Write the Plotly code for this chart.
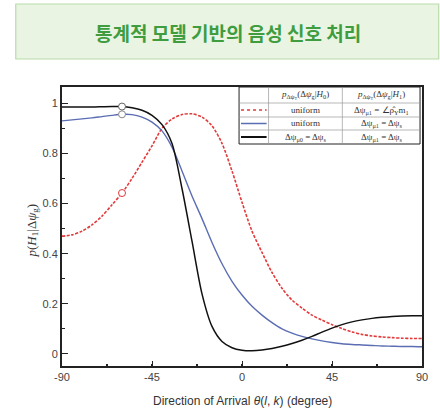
import plotly.graph_objects as go

theta = list(range(-90, 91, 5))

p_black = [0.985, 0.985, 0.985, 0.985, 0.986, 0.987, 0.987, 0.982, 0.972, 0.952,
           0.915, 0.840, 0.660, 0.450, 0.240, 0.110, 0.050, 0.025, 0.015, 0.013,
           0.016, 0.022, 0.031, 0.042, 0.055, 0.070, 0.087, 0.103, 0.117, 0.128,
           0.136, 0.142, 0.146, 0.149, 0.151, 0.152, 0.152]
p_blue = [0.930, 0.934, 0.938, 0.942, 0.947, 0.952, 0.956, 0.955, 0.945, 0.925,
          0.890, 0.825, 0.730, 0.630, 0.540, 0.445, 0.360, 0.290, 0.235, 0.190,
          0.155, 0.125, 0.100, 0.083, 0.070, 0.060, 0.052, 0.046, 0.041, 0.038,
          0.036, 0.034, 0.032, 0.031, 0.030, 0.030, 0.029]
p_red = [0.470, 0.475, 0.490, 0.515, 0.550, 0.595, 0.642, 0.700, 0.765, 0.830,
         0.900, 0.937, 0.955, 0.958, 0.945, 0.910, 0.840, 0.730, 0.605, 0.490,
         0.405, 0.325, 0.262, 0.215, 0.183, 0.155, 0.135, 0.117, 0.101, 0.088,
         0.078, 0.072, 0.068, 0.065, 0.063, 0.062, 0.062]

marker_theta = -60
x_ticks = [-90, -45, 0, 45, 90]
y_ticks = [0, 0.2, 0.4, 0.6, 0.8, 1]
y_tick_labels = ["0", "0.2", "0.4", "0.6", "0.8", "1"]

title_text = "통계적 모델 기반의 음성 신호 처리"
x_title = "Direction of Arrival <i>θ</i>(<i>l</i>, <i>k</i>) (degree)"
y_title = "<i>p</i>(<i>H</i><sub>1</sub>|Δ<i>ψ</i><sub>g</sub>)"
legend_header = ["<i>p</i><sub>Δψ<sub>T</sub></sub>(Δ<i>ψ</i><sub>g</sub>|<i>H</i><sub>0</sub>)",
                 "<i>p</i><sub>Δψ<sub>T</sub></sub>(Δ<i>ψ</i><sub>g</sub>|<i>H</i><sub>1</sub>)"]
legend_col1 = ["uniform", "uniform", "Δψ<sub>μ0</sub> = Δψ<sub>s</sub>"]
legend_col2 = ["Δψ<sub>μ1</sub> = ∠ρ̂<sub>Y</sub>m<sub>1</sub>",
               "Δψ<sub>μ1</sub> = Δψ<sub>s</sub>",
               "Δψ<sub>μ1</sub> = Δψ<sub>s</sub>"]

W, H = 440, 416
L, R, T, B = 62, 12, 87, 50
PW, PH = W - L - R, H - T - B


def px(x):
    return (x - L) / PW


def py(y):
    return 1 - (y - T) / PH


def note(x, y, text, size, family, color="#333", angle=0):
    return dict(xref="paper", yref="paper", x=px(x), y=py(y), text=text, showarrow=False,
                xanchor="center", yanchor="middle", textangle=angle,
                font=dict(family=family, size=size, color=color))


RED = "#e23a3a"
BLUE = "#5b6db3"
BLACK = "#111111"

fig = go.Figure()
fig.add_trace(go.Scatter(x=theta, y=p_red, mode="lines",
                         line=dict(color=RED, width=1.6, dash="3px,1.5px", shape="spline", smoothing=0.8)))
fig.add_trace(go.Scatter(x=theta, y=p_blue, mode="lines",
                         line=dict(color=BLUE, width=1.4, shape="spline", smoothing=0.8)))
fig.add_trace(go.Scatter(x=theta, y=p_black, mode="lines",
                         line=dict(color=BLACK, width=1.5, shape="spline", smoothing=0.8)))

mi = theta.index(marker_theta)
for arr, col in [(p_red, RED), (p_blue, "#888888"), (p_black, "#666666")]:
    fig.add_trace(go.Scatter(x=[marker_theta], y=[arr[mi]], mode="markers",
                             marker=dict(symbol="circle", size=7, color="white",
                                         line=dict(color=col, width=1))))

shapes = []
annotations = []

# Title banner
shapes.append(dict(type="rect", xref="paper", yref="paper",
                   x0=px(15), x1=px(445), y0=py(59), y1=py(4),
                   fillcolor="#e9f4e3", line=dict(color="#b9dcaa", width=1.2), layer="below"))
annotations.append(note(231, 33, "<b>" + title_text + "</b>", 19, "Noto Sans CJK KR", "#3f9d3f"))

# Legend table
lx0, lx1, lx2, lx3 = 242, 272, 347, 426
ly = [87, 103, 117, 130, 144]
shapes.append(dict(type="rect", xref="paper", yref="paper", x0=px(lx0), x1=px(lx3),
                   y0=py(ly[-1]), y1=py(ly[0]), fillcolor="white", line=dict(color="#222", width=1)))
for yy in ly[1:-1]:
    shapes.append(dict(type="line", xref="paper", yref="paper", x0=px(lx0), x1=px(lx3),
                       y0=py(yy), y1=py(yy), line=dict(color="#999", width=0.7)))
for xx in (lx1, lx2):
    shapes.append(dict(type="line", xref="paper", yref="paper", x0=px(xx), x1=px(xx),
                       y0=py(ly[-1]), y1=py(ly[0]), line=dict(color="#999", width=0.7)))
line_styles = [dict(color=RED, width=1.3, dash="dot"), dict(color=BLUE, width=1.5), dict(color=BLACK, width=2)]
for i, st in enumerate(line_styles):
    yc = (ly[i + 1] + ly[i + 2]) / 2
    shapes.append(dict(type="line", xref="paper", yref="paper", x0=px(lx0 + 2), x1=px(lx1 - 2),
                       y0=py(yc), y1=py(yc), line=st))
    annotations.append(note((lx1 + lx2) / 2, yc, legend_col1[i], 9, "Liberation Serif"))
    annotations.append(note((lx2 + lx3) / 2, yc, legend_col2[i], 9, "Liberation Serif"))
yc = (ly[0] + ly[1]) / 2
annotations.append(note((lx1 + lx2) / 2, yc, legend_header[0], 9, "Liberation Serif"))
annotations.append(note((lx2 + lx3) / 2, yc, legend_header[1], 9, "Liberation Serif"))

# Axis titles
annotations.append(note(245, 401, x_title, 12, "Liberation Sans"))
annotations.append(note(31, 231, y_title, 13, "Liberation Serif", angle=-90))

fig.update_layout(
    width=W, height=H, margin=dict(l=L, r=R, t=T, b=B),
    paper_bgcolor="white", plot_bgcolor="white", showlegend=False,
    shapes=shapes, annotations=annotations,
    xaxis=dict(range=[-90, 90], tickvals=x_ticks, ticktext=[str(v) for v in x_ticks],
               ticks="inside", ticklen=5, tickwidth=1.2, tickcolor="#222",
               minor=dict(dtick=22.5, tick0=-90, ticks="inside", ticklen=2, tickwidth=1.5, tickcolor="#222"),
               showline=True, linecolor="#222", linewidth=2, mirror=True, showgrid=False, zeroline=False,
               tickfont=dict(family="Liberation Sans", size=11, color="#444")),
    yaxis=dict(range=[-0.048, 1.065], tickvals=y_ticks, ticktext=y_tick_labels,
               ticks="inside", ticklen=6, tickwidth=1.2, tickcolor="#222",
               minor=dict(dtick=0.1, tick0=0, ticks="inside", ticklen=3, tickwidth=1.2, tickcolor="#222"),
               showline=True, linecolor="#222", linewidth=2, mirror=True, showgrid=False, zeroline=False,
               tickfont=dict(family="Liberation Sans", size=11, color="#444")),
)

fig.write_html("out.html")
